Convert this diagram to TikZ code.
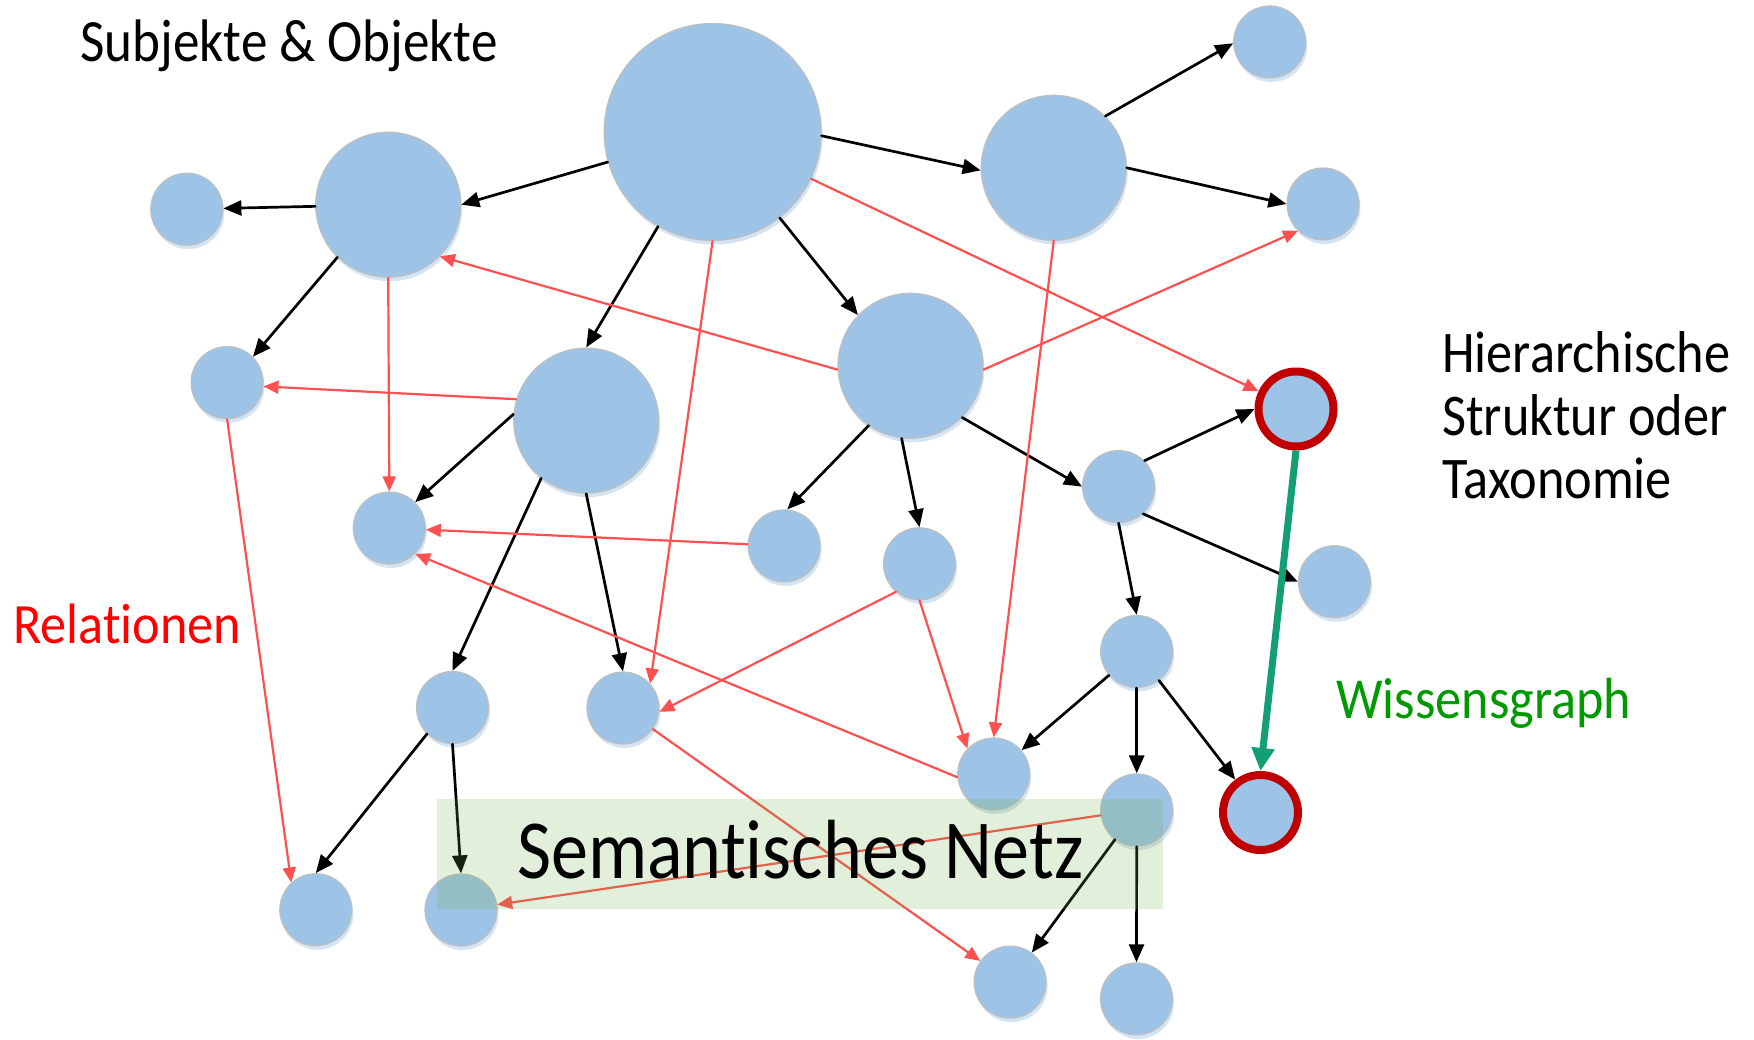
\documentclass[tikz,border=0pt]{standalone}
\usepackage{fontspec}
\setmainfont{Carlito}[Ligatures={CommonOff, RareOff}, Contextuals=AlternateOff]
\usepackage{graphicx}
\usetikzlibrary{arrows.meta, shadows}

\definecolor{nodeblue}{HTML}{9DC3E6}
\definecolor{nodeedge}{HTML}{BFBFBF}
\definecolor{relred}{HTML}{FF5050}
\definecolor{ringred}{HTML}{C00000}
\definecolor{wikigreen}{HTML}{149E76}
\definecolor{labelgreen}{HTML}{009900}
\definecolor{boxgreen}{HTML}{70AD47}

% squeeze a one-line label to a given width
\newcommand{\fitlabel}[3]{\resizebox{#1}{\height}{\fontsize{#2}{#2}\selectfont #3}}

\begin{document}
\begin{tikzpicture}[x=1pt, y=-1pt, line cap=round, line join=round, >={Triangle[length=18pt, width=15pt]},
    entity/.style={circle, fill=nodeblue, draw=nodeedge, line width=1.2pt, inner sep=0pt,
        drop shadow={shadow xshift=1.5pt, shadow yshift=-4pt, fill=nodeblue, opacity=0.45}},
    big/.style={entity, minimum size=217pt},
    mid/.style={entity, minimum size=145pt},
    small/.style={entity, minimum size=72pt},
    marked/.style={entity, draw=ringred, line width=8pt, minimum size=75pt},
    hier/.style={->, line width=2.7pt},
    rel/.style={-{Triangle[length=15pt, width=13pt]}, relred, line width=2.2pt},
    label/.style={anchor=base west, inner sep=0pt}]

    \useasboundingbox (0,0) rectangle (1754,1040);

    % Subjects and objects
    \node[big]    (root)  at (712.6,132)   {};
    \node[mid]    (left)  at (388.2,204.7) {};
    \node[small]  (far)   at (186.8,209.2) {};
    \node[mid]    (right) at (1053.7,167.8) {};
    \node[small]  (tr)    at (1269.7,42)   {};
    \node[small]  (rr)    at (1323,204)    {};
    \node[mid]    (cen)   at (910.5,365.8) {};
    \node[mid]    (mid)   at (586.2,420.6) {};
    \node[small]  (li)    at (227.1,382.6) {};
    \node[marked] (top)   at (1296,409)    {};
    \node[small]  (lk)    at (389.3,528)   {};
    \node[small]  (cl)    at (784.1,545.9) {};
    \node[small]  (cm)    at (919.5,563.8) {};
    \node[small]  (hub)   at (1118.6,486.6) {};
    \node[small]  (side)  at (1334.5,581.7) {};
    \node[small]  (sub)   at (1136.7,651.5) {};
    \node[small]  (ql)    at (452.5,707.5) {};
    \node[small]  (qr)    at (623,708)     {};
    \node[small]  (sl)    at (993.7,774)   {};
    \node[small]  (sm)    at (1136.7,810)  {};
    \node[marked] (low)   at (1260.5,812.5) {};
    \node[small]  (bl)    at (315.8,909.7) {};
    \node[small]  (bw)    at (461,910)     {};
    \node[small]  (bx)    at (1010.1,982.1) {};
    \node[small]  (by)    at (1136.5,998.9) {};

    % Hierarchy (black)
    \draw[hier] (root.196) -- (left.0);
    \draw[hier] (left) -- (far);
    \draw[hier] (root.240) -- (mid.north);
    \draw[hier] (root.-52) -- (cen.136);
    \draw[hier] (root.-2) -- (right.182);
    \draw[hier] (right.45) -- (tr.182);
    \draw[hier] (right.0) -- (rr.180);
    \draw[hier] (left.226) -- (li.45);
    \draw[hier] (mid.175) -- (lk.45);
    \draw[hier] (mid.232) -- (ql.north);
    \draw[hier] (mid.south) -- (qr.north);
    \draw[hier] (cen.235) -- (cl.85);
    \draw[hier] (cen.263) -- (cm.north);
    \draw[hier] (cen.-45) -- (hub.west);
    \draw[hier] (hub.45) -- (top.180);
    \draw[hier] (hub.-48) -- (side.west);
    \draw[hier] (hub.south) -- (sub.north);
    \draw[hier] (sub) -- (sl);
    \draw[hier] (sub.south) -- (sm.north);
    \draw[hier] (sub) -- (low);
    \draw[hier] (ql.226) -- (bl.north);
    \draw[hier] (ql.south) -- (bw.north);
    \draw[hier] (sm) -- (bx);
    \draw[hier] (sm.south) -- (by.north);

    % Relations (red)
    \draw[rel] (root) -- (top);
    \draw[rel] (cen.183) -- (left.-45);
    \draw[rel] (cen.-3) -- (rr.227);
    \draw[rel] (left.south) -- (lk.north);
    \draw[rel] (mid.163) -- (li.-6);
    \draw[rel] (cl) -- (lk);
    \draw[rel] (sl.185) -- (lk.-45);
    \draw[rel] (root.south) -- (qr.42);
    \draw[rel] (right.south) -- (sl.north);
    \draw[rel] (cm.230) -- (qr.-6);
    \draw[rel] (cm.south) -- (sl.136);
    \draw[rel] (li.south) -- (bl.132);
    \draw[rel] (qr) -- (bx);
    \draw[rel] (sm) -- (bw);

    % Knowledge graph link
    \draw[-{Triangle[length=23pt, width=22pt]}, wikigreen, line width=7pt, line cap=butt] (top.south) -- (low.north);

    % Semantic net banner
    \fill[boxgreen, opacity=0.2] (437,799) rectangle (1163,909);
    \node[label] (net) at (517,878.3) {\fitlabel{566pt}{84}{Semantisches Netz}};

    % Labels
    \node[label] (subj) at (80.4,61.7) {\fitlabel{417pt}{60}{Subjekte \& Objekte}};
    \node[label, text=red] (relat) at (13,643) {\fitlabel{228pt}{57}{Relationen}};
    \node[label, text=labelgreen] (wiss) at (1336,718.3) {\fitlabel{295pt}{58}{Wissensgraph}};
    \node[label] (tax) at (1442,372.3) {\scalebox{0.887}[1]{\fontsize{59}{63}\selectfont
        \begin{tabular}[t]{@{}l@{}}Hierarchische\\Struktur oder\\Taxonomie\end{tabular}}};
\end{tikzpicture}
\end{document}
